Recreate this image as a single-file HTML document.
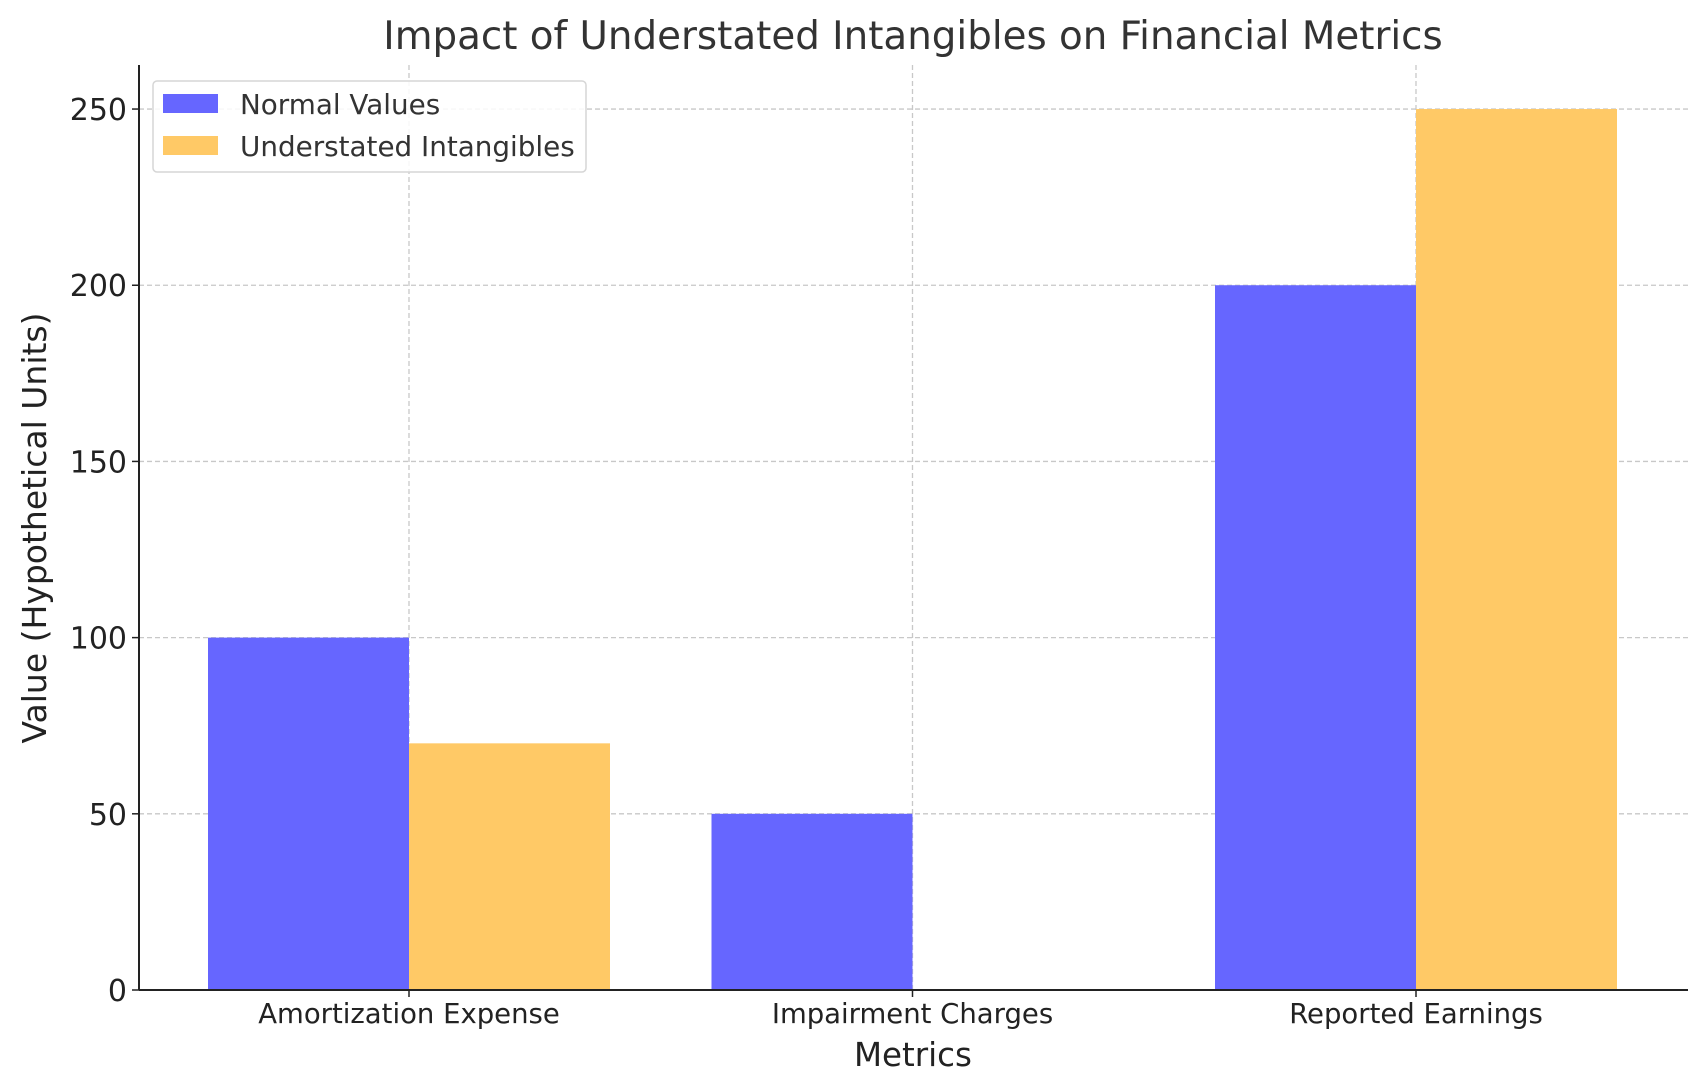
<!DOCTYPE html>
<html><head><meta charset="utf-8"><style>
html,body{margin:0;padding:0;background:#fff;}
svg{display:block;font-family:"DejaVu Sans","Liberation Sans",sans-serif;}
</style></head><body>
<svg id="chart" width="1707" height="1092" viewBox="0 0 1707 1092">
<g id="grid"></g><g id="bars"></g><g id="axes"></g>
</svg>
<script>
const categories = ["Amortization Expense", "Impairment Charges", "Reported Earnings"];
const normalValues = [100, 50, 200];
const understatedValues = [70, 0, 250];
const yTicks = [0, 50, 100, 150, 200, 250];
const seriesNames = ["Normal Values", "Understated Intangibles"];

const NS = "http://www.w3.org/2000/svg";
const L = 139, R = 1688, T = 65, B = 990;
const yMax = 262.5;
function y(v){ return B - v / yMax * (B - T); }
const xStart = 409, xStep = 503.5, barW = 201;
function xc(i){ return xStart + i * xStep; }
function mk(tag, attrs, parent, text){
  const e = document.createElementNS(NS, tag);
  for (const k in attrs) e.setAttribute(k, attrs[k]);
  if (text !== undefined) e.textContent = text;
  parent.appendChild(e); return e;
}
const svg = document.getElementById("chart");
const grid = document.getElementById("grid"), bars = document.getElementById("bars"), axes = document.getElementById("axes");

yTicks.forEach(t => {
  if (t > 0) {
    const g = mk("line", {x1:L, x2:R, y1:y(t), y2:y(t), stroke:"#c8c8c8", "stroke-width":1.3, "stroke-dasharray":"5,3"}, grid);
    
    
  }
  const tk = mk("line", {x1:L-7, x2:L, y1:y(t), y2:y(t), stroke:"#222", "stroke-width":1.5}, axes);
  
  
  const lb = mk("text", {x:L-12, y:y(t)+11, "text-anchor":"end", "font-size":30, fill:"#222"}, axes, String(t));
  
  
});
categories.forEach((c, i) => {
  const g = mk("line", {x1:xc(i), x2:xc(i), y1:T, y2:B, stroke:"#c8c8c8", "stroke-width":1.3, "stroke-dasharray":"5,3"}, grid);
  
  
  const b1 = mk("rect", {x:xc(i)-barW, y:y(normalValues[i]), width:barW, height:B-y(normalValues[i]), fill:"#6666ff"}, bars);
  
  
  const b2 = mk("rect", {x:xc(i), y:y(understatedValues[i]), width:barW, height:B-y(understatedValues[i]), fill:"#ffc966"}, bars);
  
  
  const tk = mk("line", {x1:xc(i), x2:xc(i), y1:B, y2:B+7, stroke:"#222", "stroke-width":1.5}, axes);
  
  
  const lb = mk("text", {x:xc(i), y:B+33, "text-anchor":"middle", "font-size":27.5, fill:"#222"}, axes, c);
  
  
});
const la = mk("line", {x1:L, x2:L, y1:T, y2:B, stroke:"#222", "stroke-width":2}, axes);


const ba = mk("line", {x1:L, x2:R, y1:B, y2:B, stroke:"#222", "stroke-width":2}, axes);



const title = mk("text", {x:913, y:49, "text-anchor":"middle", "font-size":38.8, fill:"#333"}, svg, "Impact of Understated Intangibles on Financial Metrics");


const xt = mk("text", {x:913, y:1066, "text-anchor":"middle", "font-size":32.5, fill:"#222"}, svg, "Metrics");


const yt = mk("text", {x:0, y:0, "text-anchor":"middle", "font-size":33, fill:"#222", transform:"translate(46,528) rotate(-90)"}, svg, "Value (Hypothetical Units)");



const leg = mk("g", {}, svg);


mk("rect", {x:153, y:81, width:433, height:91, rx:4, fill:"rgba(255,255,255,0.85)", stroke:"#d6d6d6", "stroke-width":1.5}, leg);
const colors = ["#6666ff", "#ffc966"];
seriesNames.forEach((s, i) => {
  const p = mk("rect", {x:163, y:94 + i*42, width:55, height:19, fill:colors[i]}, leg);
  
  
  const t = mk("text", {x:240, y:114 + i*42, "font-size":27.8, fill:"#333"}, leg, s);
  
  
});
</script>
</body></html>
